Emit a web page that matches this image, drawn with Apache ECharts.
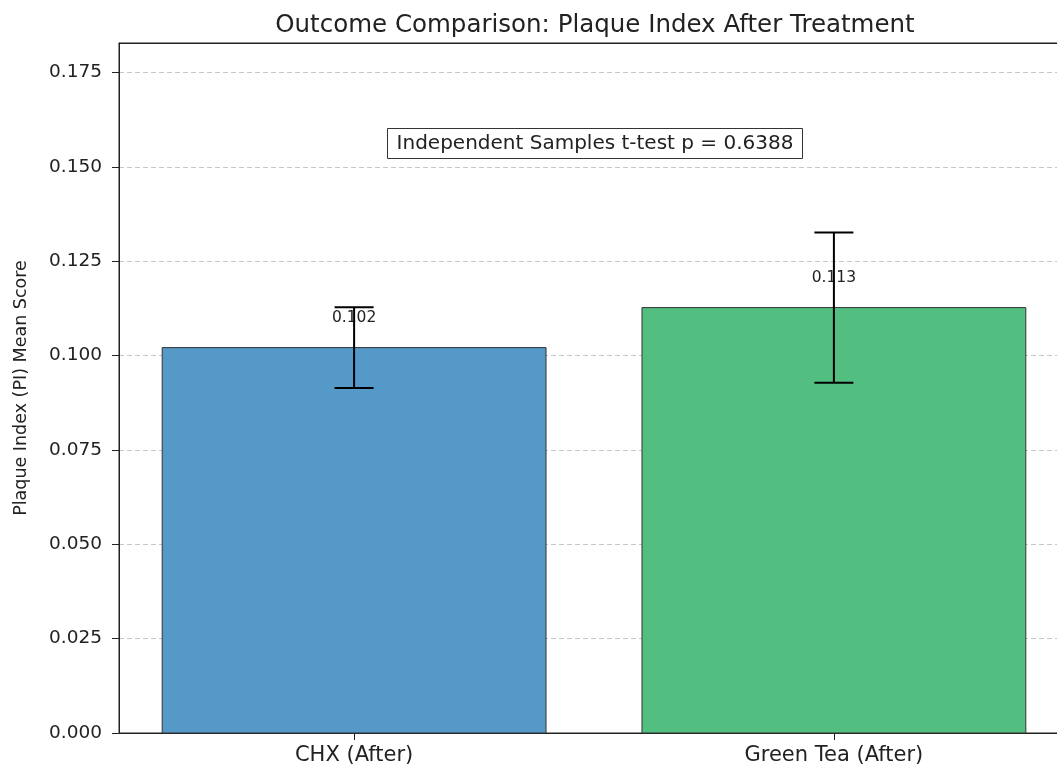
<!DOCTYPE html>
<html>
<head>
<meta charset="utf-8">
<script src="https://cdn.jsdelivr.net/npm/echarts@6/dist/echarts.min.js"></script>
<style>
html,body{margin:0;padding:0;overflow:hidden;background:#fff;}
#chart{width:1100px;height:766px;}
</style>
</head>
<body>
<div id="chart"></div>
<script>
const categories = ['CHX (After)', 'Green Tea (After)'];
const positions = [0, 1];
const means = [0.1021, 0.1127];
const errors = [0.0107, 0.0199];
const barLabels = ['0.102', '0.113'];
const barColors = ['#5499C7', '#52BE80'];
const yTicks = [0, 0.025, 0.05, 0.075, 0.1, 0.125, 0.15, 0.175];
const titleText = 'Outcome Comparison: Plaque Index After Treatment';
const yAxisName = 'Plaque Index (PI) Mean Score';
const annotationText = 'Independent Samples t-test p = 0.6388';

const FONT = 'DejaVu Sans';
const BAR_W = 0.8;
const chart = echarts.init(document.getElementById('chart'));

const barData = means.map((m, i) => [positions[i], m, i]);
const errData = means.map((m, i) => [positions[i], m - errors[i], m + errors[i]]);

chart.setOption({
  animation: false,
  textStyle: { fontFamily: FONT },
  title: [
    {
      text: titleText,
      left: 590, top: 8,
      textAlign: 'center',
      textStyle: { fontFamily: FONT, fontSize: 24.5, fontWeight: 'normal', color: '#222' }
    },
    {
      text: annotationText,
      left: 586, top: 128,
      textAlign: 'center',
      padding: [6, 9, 5, 9],
      borderColor: '#333', borderWidth: 1,
      backgroundColor: '#fff',
      textStyle: { fontFamily: FONT, fontSize: 20, fontWeight: 'normal', color: '#222' }
    }
  ],
  grid: {
    left: 119, top: 43, right: 31, bottom: 33,
    show: true, borderColor: '#222', borderWidth: 1, backgroundColor: 'transparent'
  },
  xAxis: [
    {
      type: 'value',
      min: -0.49, max: 1.49,
      axisLine: { show: true, onZero: false, lineStyle: { color: '#222', width: 1 } },
      axisTick: { show: true, customValues: positions, length: 7, lineStyle: { color: '#222' } },
      axisLabel: {
        customValues: positions,
        formatter: v => categories[Math.round(v)],
        fontSize: 21, color: '#222', margin: 12, fontFamily: FONT
      },
      splitLine: { show: false }
    },
    {
      type: 'value',
      position: 'top',
      min: -0.49, max: 1.49,
      axisLine: { show: true, onZero: false, lineStyle: { color: '#222', width: 1 } },
      axisTick: { show: false },
      axisLabel: { show: false },
      splitLine: { show: false }
    }
  ],
  yAxis: {
    type: 'value',
    min: 0, max: 0.1828, interval: 0.025,
    name: yAxisName,
    nameLocation: 'middle',
    nameGap: 89,
    nameTextStyle: { fontSize: 17.5, color: '#222', fontFamily: FONT },
    axisLine: { show: true, onZero: false, lineStyle: { color: '#222', width: 1 } },
    axisTick: { show: true, length: 7, lineStyle: { color: '#222' } },
    axisLabel: {
      fontSize: 18.5, color: '#222', margin: 17, fontFamily: FONT,
      showMaxLabel: false,
      formatter: v => {
        const t = yTicks.find(x => Math.abs(x - v) < 1e-6);
        return t === undefined ? '' : t.toFixed(3);
      }
    },
    splitLine: { show: true, lineStyle: { color: '#c8c8c8', type: [5, 3], width: 1 } }
  },
  series: [
    {
      type: 'custom',
      data: barData,
      z: 2,
      renderItem: function (params, api) {
        const x = api.value(0);
        const v = api.value(1);
        const i = api.value(2);
        const p0 = api.coord([x - BAR_W / 2, 0]);
        const p1 = api.coord([x + BAR_W / 2, v]);
        const pc = api.coord([x, v]);
        return {
          type: 'group',
          children: [
            {
              type: 'rect',
              shape: { x: p0[0], y: p1[1], width: p1[0] - p0[0], height: p0[1] - p1[1] },
              style: { fill: barColors[i], stroke: '#333', lineWidth: 1 }
            },
            {
              type: 'text',
              x: pc[0], y: pc[1] - 30,
              style: {
                text: barLabels[i], fill: '#222', font: '15.5px "' + FONT + '"',
                align: 'center', verticalAlign: 'middle'
              }
            }
          ]
        };
      }
    },
    {
      type: 'custom',
      data: errData,
      z: 5,
      renderItem: function (params, api) {
        const x = api.value(0);
        const lo = api.coord([x, api.value(1)]);
        const hi = api.coord([x, api.value(2)]);
        const cap = 19.5;
        const st = { stroke: '#000', lineWidth: 2 };
        return {
          type: 'group',
          children: [
            { type: 'line', shape: { x1: lo[0], y1: lo[1], x2: hi[0], y2: hi[1] }, style: st },
            { type: 'line', shape: { x1: lo[0] - cap, y1: lo[1], x2: lo[0] + cap, y2: lo[1] }, style: st },
            { type: 'line', shape: { x1: hi[0] - cap, y1: hi[1], x2: hi[0] + cap, y2: hi[1] }, style: st }
          ]
        };
      }
    }
  ]
});
</script>
</body>
</html>
